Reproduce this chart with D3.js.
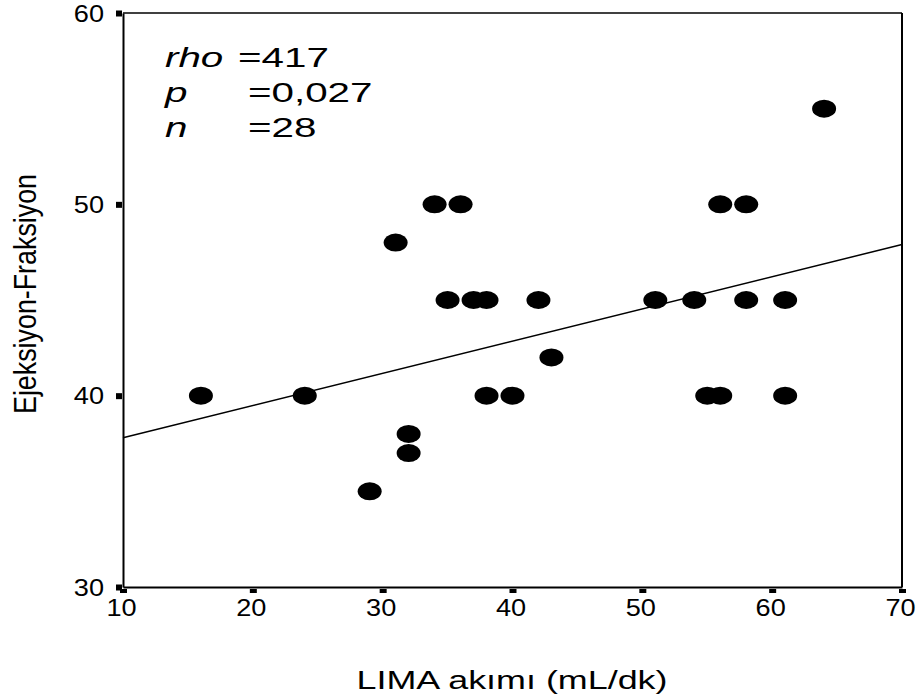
<!DOCTYPE html>
<html><head><meta charset="utf-8">
<script src="https://cdn.jsdelivr.net/npm/d3@7"></script>
<style>body{margin:0;background:#fff}svg{display:block}text{font-family:"Liberation Sans",Arial,sans-serif}</style>
</head><body><svg id="c" width="922" height="698"></svg>
<script>
const limaFlow = [16,24,29,31,32,32,34,36,35,37,38,38,40,42,43,51,54,55,56,56,58,58,61,61,64];
const ejectionFraction = [40,40,35,48,38,37,50,50,45,45,45,40,40,45,42,45,45,40,40,50,50,45,45,40,55];
const xTicks = [10,20,30,40,50,60,70];
const yTicks = [30,40,50,60];
const fitLine = [{x:10,y:37.8},{x:70,y:47.9}];
const statLabels = [["rho","=417"],["p","=0,027"],["n","=28"]];

const svg = d3.select("#c");
const m = {l:123, r:902, t:13, b:587};
const x = d3.scaleLinear().domain([10,70]).range([m.l,m.r]);
const y = d3.scaleLinear().domain([30,60]).range([m.b,m.t]);

function stretch(sel, k){
  sel.each(function(){
    const w = this.getComputedTextLength();
    d3.select(this).attr("textLength", w*k).attr("lengthAdjust","spacingAndGlyphs");
  });
}

// frame
svg.append("line").attr("x1",m.l).attr("x2",m.r).attr("y1",m.t).attr("y2",m.t).attr("stroke","#000").attr("stroke-width",1.5);
svg.append("line").attr("x1",m.r).attr("x2",m.r).attr("y1",m.t).attr("y2",m.b).attr("stroke","#000").attr("stroke-width",2);

const xa = svg.append("g").attr("transform",`translate(0,${m.b})`)
  .call(d3.axisBottom(x).tickValues(xTicks).tickSize(0).tickPadding(12));
const ya = svg.append("g").attr("transform",`translate(${m.l},0)`)
  .call(d3.axisLeft(y).tickValues(yTicks).tickSize(0).tickPadding(19));
[xa,ya].forEach(g=>{
  g.attr("font-size",null).attr("font-family",null);
  g.select(".domain").attr("stroke","#000").attr("stroke-width",2);
  g.selectAll("text").style("font-size","23px").attr("fill","#000").style("font-family",'"Liberation Sans",Arial,sans-serif');
  stretch(g.selectAll("text"), 1.18);
});
xa.selectAll(".tick text").attr("dy","0.72em").attr("x",-2);
ya.selectAll(".tick text").attr("dy","0.35em");
// square tick marks
xa.selectAll(".tick").append("rect").attr("x",-3.5).attr("y",2).attr("width",7).attr("height",4).attr("fill","#000");
ya.selectAll(".tick").append("rect").attr("x",-7).attr("y",-3).attr("width",6).attr("height",6).attr("fill","#000");

// fit line
svg.append("line").attr("x1",x(fitLine[0].x)).attr("y1",y(fitLine[0].y))
  .attr("x2",x(fitLine[1].x)).attr("y2",y(fitLine[1].y)).attr("stroke","#000").attr("stroke-width",1.5);

// points
svg.append("g").selectAll("ellipse").data(limaFlow).join("ellipse")
  .attr("cx",d=>x(d)).attr("cy",(d,i)=>y(ejectionFraction[i])).attr("rx",12).attr("ry",9).attr("fill","#000");

// stats
const st = svg.append("g");
statLabels.forEach((s,i)=>{
  const by = 67 + i*35;
  st.append("text").attr("x",165).attr("y",by).style("font-size","28px").attr("font-style","italic").text(s[0]);
  st.append("text").attr("x",i===0?238:248).attr("y",by).style("font-size","28px").text(s[1]);
});
stretch(st.selectAll("text"), 1.44);

// axis titles
const xt = svg.append("text").attr("x",512).attr("y",689).attr("text-anchor","middle").style("font-size","26px").text("LIMA akımı (mL/dk)");
stretch(xt, 1.38);
svg.append("text").attr("transform","translate(36,294) rotate(-90) scale(1,1.18)").attr("text-anchor","middle").style("font-size","26px").attr("textLength",240).attr("lengthAdjust","spacingAndGlyphs").text("Ejeksiyon-Fraksiyon");
</script></body></html>
